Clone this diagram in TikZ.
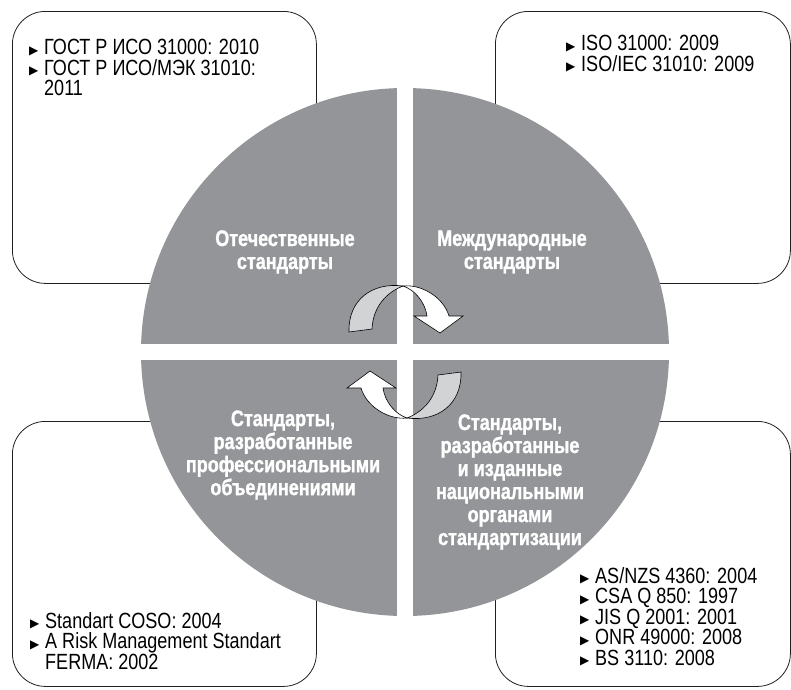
\documentclass[tikz,border=0pt]{standalone}
\usepackage{fontspec}
\setmainfont{Liberation Sans}[FakeStretch=0.82]
\newfontfamily\labelfont{Liberation Sans}[FakeStretch=0.8, BoldFont={Liberation Sans Bold}, BoldFeatures={FakeBold=1.2}]
\newfontfamily\symfont{DejaVu Sans}
\usetikzlibrary{positioning}

\definecolor{discgray}{RGB}{147,149,152}
\definecolor{ribbongray}{RGB}{209,211,212}
\definecolor{linegray}{RGB}{35,31,32}

\newcommand{\itm}{\makebox[15pt][l]{\raisebox{0.5pt}{\symfont\fontsize{12}{12}\selectfont ▶}}}
\newcommand{\cont}{\hspace*{15pt}}

\begin{document}
\begin{tikzpicture}[
    x=1pt, y=-1pt,
    frame/.style={rectangle, draw=linegray, line width=0.8pt, rounded corners=33pt, anchor=north west},
    listtext/.style={anchor=north west, inner sep=0pt, align=left, text=black, font={\fontsize{22}{20.5}\selectfont}},
    sector/.style={text=white, inner sep=0pt, align=center, font={\labelfont\bfseries\fontsize{22.5}{23}\selectfont}},
    ribbon/.style={draw=black, line width=0.6pt},
    cyclearrow/.pic={
        \filldraw[ribbon, fill=ribbongray] (-56,-20) .. controls (-57,-52) and (-33,-70) .. (-2,-66)
            .. controls (-20,-59) and (-32,-44) .. (-33,-23) -- cycle;
        \filldraw[ribbon, fill=white] (-2,-66) .. controls (15,-68) and (38,-56) .. (44,-36)
            -- (58,-36) -- (35,-19) -- (9,-36) -- (22,-36)
            .. controls (20,-50) and (10,-62) .. (-2,-66) -- cycle;
    }
]
\useasboundingbox (0,0) rectangle (791,689);

% corner boxes
\node[frame, minimum width=304pt, minimum height=272pt] (domesticbox) at (12,11) {};
\node[frame, minimum width=295pt, minimum height=272pt] (intlbox) at (495,11) {};
\node[frame, minimum width=304pt, minimum height=265pt] (profbox) at (12,421) {};
\node[frame, minimum width=295pt, minimum height=265pt] (natbox) at (495,421) {};

% disc split into four quarters
\begin{scope}
    \clip (405,352) circle (264pt);
    \fill[discgray] (130,80) rectangle (397,344);
    \fill[discgray] (413,80) rectangle (680,344);
    \fill[discgray] (130,360) rectangle (397,625);
    \fill[discgray] (413,360) rectangle (680,625);
\end{scope}

% arrows in the middle
\pic (toparrow) at (405,352) {cyclearrow};
\pic[rotate=180] (bottomarrow) at (405,352) {cyclearrow};

% quarter labels
\node[sector] (domestic) at (285,252) {Отечественные\\стандарты};
\node[sector] (intl) at (512,252) {Международные\\стандарты};
\node[sector] (professional) at (283,455) {Стандарты,\\разработанные\\профессиональными\\объединениями};
\node[sector] (national) at (510,482) {Стандарты,\\разработанные\\и изданные\\национальными\\органами\\стандартизации};

% lists
\node[listtext] (domesticlist) at (29,39) {\itm ГОСТ Р ИСО 31000: 2010\\\itm ГОСТ Р ИСО/МЭК 31010:\\\cont 2011};
\node[listtext] (intllist) at (566,35) {\itm ISO 31000: 2009\\\itm ISO/IEC 31010: 2009};
\node[listtext] (proflist) at (30,612) {\itm Standart COSO: 2004\\\itm A Risk Management Standart\\\cont FERMA: 2002};
\node[listtext] (natlist) at (580,567) {\itm AS/NZS 4360: 2004\\\itm CSA Q 850: 1997\\\itm JIS Q 2001: 2001\\\itm ONR 49000: 2008\\\itm BS 3110: 2008};

\end{tikzpicture}
\end{document}
